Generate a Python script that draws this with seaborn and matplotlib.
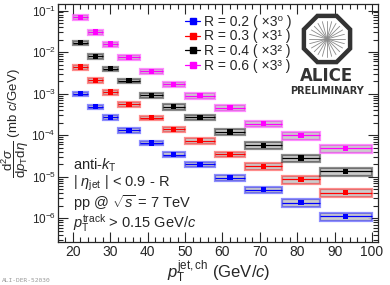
import numpy as np
import pandas as pd
import matplotlib
matplotlib.use("Agg")
import matplotlib.pyplot as plt
import matplotlib.patches as mpatches
from matplotlib.lines import Line2D
from matplotlib.ticker import LogLocator, MultipleLocator, NullFormatter
import seaborn as sns

# jet pT bins (GeV/c)
bin_edges = [20, 24, 28, 32, 38, 44, 50, 58, 66, 76, 86, 100]

# plotted cross sections (already scaled by 3^n), mb c/GeV
r02 = [9.9e-4, 4.81e-4, 2.67e-4, 1.32e-4, 6.5e-5, 3.43e-5, 1.98e-5, 9.4e-6, 4.9e-6, 2.39e-6, 1.12e-6]
r03 = [4.36e-3, 2.11e-3, 1.09e-3, 5.6e-4, 2.61e-4, 1.40e-4, 7.4e-5, 3.48e-5, 1.79e-5, 8.6e-6, 4.16e-6]
r04 = [1.67e-2, 8.0e-3, 3.96e-3, 2.03e-3, 9.06e-4, 4.81e-4, 2.67e-4, 1.20e-4, 5.68e-5, 2.84e-5, 1.36e-5]
r06 = [6.86e-2, 3.03e-2, 1.56e-2, 7.45e-3, 3.48e-3, 1.67e-3, 8.85e-4, 4.55e-4, 1.91e-4, 9.84e-5, 4.86e-5]

# relative systematic uncertainty per bin
syst_rel = [0.13, 0.13, 0.13, 0.13, 0.13, 0.14, 0.15, 0.16, 0.18, 0.20, 0.22]

radii = ["0.2", "0.3", "0.4", "0.6"]
scales = ["⁰", "¹", "²", "³"]
colors = ["#0000ff", "#ff0000", "#000000", "#ff00ff"]

rows = []
for k, (r, vals) in enumerate(zip(radii, [r02, r03, r04, r06])):
    for i, v in enumerate(vals):
        lo, hi = bin_edges[i], bin_edges[i + 1]
        rows.append({"R": r, "pt": 0.5 * (lo + hi), "lo": lo, "hi": hi,
                     "y": v, "syst": syst_rel[i], "k": k})
df = pd.DataFrame(rows)

sns.set_theme(style="ticks")
plt.rcParams["font.family"] = ["Liberation Sans", "DejaVu Sans"]
plt.rcParams["mathtext.fontset"] = "custom"
plt.rcParams["mathtext.rm"] = "Liberation Sans"
plt.rcParams["mathtext.it"] = "Liberation Sans:italic"
plt.rcParams["mathtext.bf"] = "Liberation Sans:bold"

fig = plt.figure(figsize=(3.9, 2.85), dpi=100)
ax = fig.add_axes([58 / 390, 1 - 242 / 285, 320 / 390, 238 / 285])
ax.set_yscale("log")

# systematic boxes
for _, row in df.iterrows():
    c = colors[row["k"]]
    ax.add_patch(mpatches.Rectangle(
        (row["lo"], row["y"] * (1 - row["syst"])), row["hi"] - row["lo"],
        row["y"] * 2 * row["syst"], facecolor=(0.78, 0.78, 0.78, 0.9),
        edgecolor=matplotlib.colors.to_rgba(c, 0.45), lw=1.6, zorder=2))
    ax.hlines(row["y"], row["lo"], row["hi"], color=c, lw=0.9, zorder=3)

sns.scatterplot(data=df, x="pt", y="y", hue="R", palette=colors, marker="s",
                s=14, edgecolor="none", legend=False, ax=ax, zorder=5)

ax.set_xlim(16, 101.6)
ax.set_ylim(10 ** -6.57, 10 ** -0.843)
ax.xaxis.set_major_locator(MultipleLocator(10))
ax.xaxis.set_minor_locator(MultipleLocator(2))
ax.yaxis.set_major_locator(LogLocator(base=10, numticks=12))
ax.yaxis.set_minor_locator(LogLocator(base=10, subs=np.arange(2, 10), numticks=12))
ax.yaxis.set_minor_formatter(NullFormatter())
ax.tick_params(which="both", direction="in", top=True, right=True, labelsize=10, width=0.8)
ax.tick_params(which="major", length=7)
ax.tick_params(which="minor", length=3.5)
ax.tick_params(axis="x", which="major", pad=2)
ax.tick_params(axis="y", which="major", pad=1.5, labelsize=8.5)
for s in ax.spines.values():
    s.set_linewidth(0.9)

ax.set_xlabel(r"$p_{\rm T}^{\rm jet,ch}$ (GeV/$c$)", fontsize=12, ha="right", va="top")
ax.xaxis.set_label_coords(0.6625, -0.072)
ax.set_ylabel(r"$\dfrac{{\rm d}^2\sigma}{{\rm d}p_{\rm T}{\rm d}\eta}$ (mb $c$/GeV)", fontsize=9.5)
ax.yaxis.label.set(va="center", ha="center")
ax.yaxis.set_label_coords(-0.132, 0.5)

handles = [Line2D([], [], color=c, marker="s", markersize=4, lw=0.9) for c in colors]
labels = [f"R = {r} ( ×3{e} )" for r, e in zip(radii, scales)]
ax.legend(handles, labels, loc="upper left", bbox_to_anchor=(0.397, 0.955), frameon=False,
          fontsize=10, handlelength=1.1, handletextpad=0.3, labelspacing=0.05, borderpad=0,
          borderaxespad=0)

tx = 0.047
ax.text(tx, 0.3025, r"anti-$k_{\rm T}$", transform=ax.transAxes, fontsize=10.5, va="baseline")
ax.text(tx, 0.231, r"$|\ \eta_{\rm jet}\ |$ < 0.9 - R", transform=ax.transAxes, fontsize=10.5, va="baseline")
ax.text(tx, 0.143, r"pp @ $\sqrt{s}$ = 7 TeV", transform=ax.transAxes, fontsize=10.5, va="baseline")
ax.text(tx, 0.059, r"$p_{\rm T}^{\rm track}$ > 0.15 GeV/$c$", transform=ax.transAxes, fontsize=10.5, va="baseline")

# ALICE logo
lax = fig.add_axes([290 / 390, 1 - 98 / 285, 75 / 390, 90 / 285])
lax.set_xlim(290, 365)
lax.set_ylim(98, 8)
lax.axis("off")
cx, cy = 327, 39
lax.add_patch(mpatches.RegularPolygon((cx, cy), numVertices=8, radius=25,
                                      orientation=np.pi / 8, fill=False, lw=3.2,
                                      edgecolor="#333333"))
for a in np.linspace(0, 2 * np.pi, 24, endpoint=False):
    lax.plot([cx, cx + 18 * np.cos(a)], [cy, cy + 18 * np.sin(a)], color="#8a8a8a", lw=0.6)
lax.text(cx, 76, "ALICE", ha="center", va="center", fontsize=12, fontweight="bold",
         color="#333333", family="DejaVu Sans")
lax.text(cx, 91, "PRELIMINARY", ha="center", va="center", fontsize=7, fontweight="bold",
         color="#333333", family="DejaVu Sans")

fig.text(2 / 390, 1 - 281 / 285, "ALI-DER-52030", fontsize=4.5, color="#999999",
         family="DejaVu Sans Mono", va="center")

fig.savefig("out.png", dpi=100)
